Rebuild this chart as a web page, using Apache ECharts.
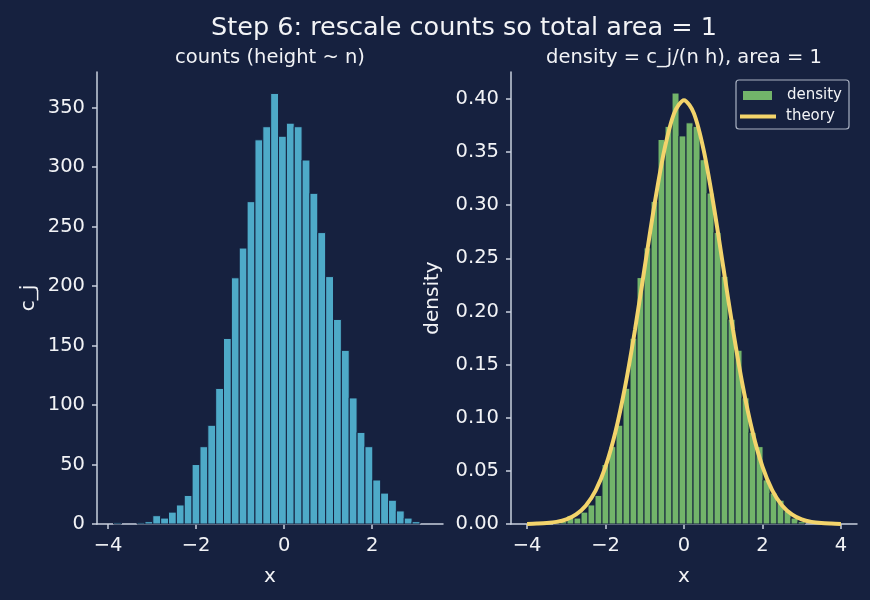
<!DOCTYPE html>
<html>
<head>
<meta charset="utf-8">
<script src="https://cdn.jsdelivr.net/npm/echarts@6/dist/echarts.min.js"></script>
<style>
html, body { margin: 0; padding: 0; background: #16213f; }
#chart { width: 870px; height: 600px; }
</style>
</head>
<body>
<div id="chart"></div>
<script>
// histogram: bin edges start + width, counts
const binStart = -3.875
const binWidth = 0.1785
const counts = [1, 0, 0, 1, 2, 7, 5, 10, 16, 24, 50, 65, 83, 114, 156, 207, 232, 271, 323, 334,
	362, 326, 337, 334, 306, 278, 245, 208, 172, 146, 106, 77, 65, 37, 26, 20, 11, 5, 2]
const sampleSize = 5000

// theory curve
const theoryX = [-4, -3.75, -3.5, -3.25, -3, -2.75, -2.5, -2.25, -2, -1.75, -1.5, -1.25, -1, -0.75, -0.5, -0.25, 0,
	0.25, 0.5, 0.75, 1, 1.25, 1.5, 1.75, 2, 2.25, 2.5, 2.75, 3, 3.25, 3.5, 3.75, 4]
const theoryY = [0.0001, 0.0004, 0.0009, 0.002, 0.0044, 0.0091, 0.0175, 0.0317, 0.054, 0.0863, 0.1295, 0.1826, 0.242, 0.3011, 0.3521, 0.3867, 0.3989,
	0.3867, 0.3521, 0.3011, 0.242, 0.1826, 0.1295, 0.0863, 0.054, 0.0317, 0.0175, 0.0091, 0.0044, 0.002, 0.0009, 0.0004, 0.0001]

// tick labels
const leftXTicks = [-4, -2, 0, 2]
const leftYTicks = [0, 50, 100, 150, 200, 250, 300, 350]
const rightXTicks = [-4, -2, 0, 2, 4]
const rightYTicks = [0, 0.05, 0.1, 0.15, 0.2, 0.25, 0.3, 0.35, 0.4]

const bg = '#16213f'
const axisColor = '#c9d0de'
const textColor = '#f2f3f6'
const font = 'DejaVu Sans'

const myChart = echarts.init(document.getElementById('chart'))

let countData = []
let densityData = []
for (let i = 0; i < counts.length; i++) {
	let lo = binStart + i * binWidth
	let hi = lo + binWidth
	countData.push([lo, hi, counts[i]])
	densityData.push([lo, hi, counts[i] / (sampleSize * binWidth)])
}
let theoryData = theoryX.map((x, i) => [x, theoryY[i]])

function histRender(color) {
	return function(params, api) {
		let h = api.value(2)
		if (h <= 0) return
		let p0 = api.coord([api.value(0), h])
		let p1 = api.coord([api.value(1), 0])
		return {
			type: 'rect',
			shape: { x: p0[0], y: p0[1], width: p1[0] - p0[0], height: p1[1] - p0[1] },
			style: { fill: color, stroke: bg, lineWidth: 1 }
		}
	}
}

function minus(v) {
	return String(v).replace('-', '\u2212')
}

function xAxisOf(grid, min, max, ticks) {
	return {
		type: 'value', gridIndex: grid, min: min, max: max,
		name: 'x', nameLocation: 'middle', nameGap: 43,
		nameTextStyle: { color: textColor, fontSize: 20, fontFamily: font },
		axisLine: { show: true, onZero: false, lineStyle: { color: axisColor, width: 1.5 } },
		axisTick: { show: true, length: 5, customValues: ticks, lineStyle: { color: axisColor, width: 1.5 } },
		axisLabel: { customValues: ticks, color: textColor, fontSize: 19.5, fontFamily: font, margin: 12, formatter: minus },
		splitLine: { show: false }
	}
}

function yAxisOf(grid, max, ticks, name, gap, fmt) {
	return {
		type: 'value', gridIndex: grid, min: 0, max: max,
		name: name, nameLocation: 'middle', nameGap: gap,
		nameTextStyle: { color: textColor, fontSize: 20, fontFamily: font },
		axisLine: { show: true, onZero: false, lineStyle: { color: axisColor, width: 1.5 } },
		axisTick: { show: true, length: 5, customValues: ticks, lineStyle: { color: axisColor, width: 1.5 } },
		axisLabel: { customValues: ticks, color: textColor, fontSize: 19.5, fontFamily: font, margin: 12, formatter: fmt },
		splitLine: { show: false }
	}
}

let option = {
	backgroundColor: bg,
	animation: false,
	title: [
		{ text: 'Step 6: rescale counts so total area = 1', left: 459, top: 10, textAlign: 'center',
			textStyle: { color: textColor, fontSize: 25.5, fontWeight: 'normal', fontFamily: font } },
		{ text: 'counts (height ~ n)', left: 265, top: 43, textAlign: 'center',
			textStyle: { color: textColor, fontSize: 19.5, fontWeight: 'normal', fontFamily: font } },
		{ text: 'density = c_j/(n h), area = 1', left: 679, top: 43, textAlign: 'center',
			textStyle: { color: textColor, fontSize: 19.5, fontWeight: 'normal', fontFamily: font } }
	],
	legend: [
		{
			left: 743, top: 88, padding: 0, itemWidth: 29, itemHeight: 9,
			textStyle: { color: textColor, fontSize: 15, fontFamily: font, padding: [0, 0, 0, 10] },
			data: [{ name: 'density', icon: 'rect' }]
		},
		{
			left: 740, top: 109, padding: 0, itemWidth: 36, itemHeight: 4,
			textStyle: { color: textColor, fontSize: 15, fontFamily: font, padding: [0, 0, 0, 5] },
			data: [{ name: 'theory', icon: 'rect' }]
		}
	],
	graphic: [{
		type: 'rect', z: 10,
		shape: { x: 736, y: 80, width: 113, height: 49, r: 3 },
		style: { fill: null, stroke: '#a9b1c2', lineWidth: 1.2 }
	}],
	grid: [
		{ left: 97, right: 427, top: 72, bottom: 76 },
		{ left: 511, right: 13, top: 72, bottom: 76 }
	],
	xAxis: [
		xAxisOf(0, -4.25, 3.61, leftXTicks),
		xAxisOf(1, -4.41, 4.41, rightXTicks)
	],
	yAxis: [
		yAxisOf(0, 380, leftYTicks, 'c_j', 58, v => String(v)),
		yAxisOf(1, 0.4254, rightYTicks, 'density', 68, v => v.toFixed(2))
	],
	series: [
		{
			name: 'counts', type: 'custom', xAxisIndex: 0, yAxisIndex: 0,
			renderItem: histRender('#4eaac8'), encode: { x: [0, 1], y: 2 },
			data: countData
		},
		{
			name: 'density', type: 'custom', xAxisIndex: 1, yAxisIndex: 1,
			renderItem: histRender('#72b46a'), itemStyle: { color: '#72b46a' },
			encode: { x: [0, 1], y: 2 },
			data: densityData
		},
		{
			name: 'theory', type: 'line', xAxisIndex: 1, yAxisIndex: 1,
			smooth: 0.3, symbol: 'none', z: 5,
			lineStyle: { color: '#f3d46b', width: 4 }, itemStyle: { color: '#f3d46b' },
			data: theoryData
		}
	]
}

myChart.setOption(option)
</script>
</body>
</html>
